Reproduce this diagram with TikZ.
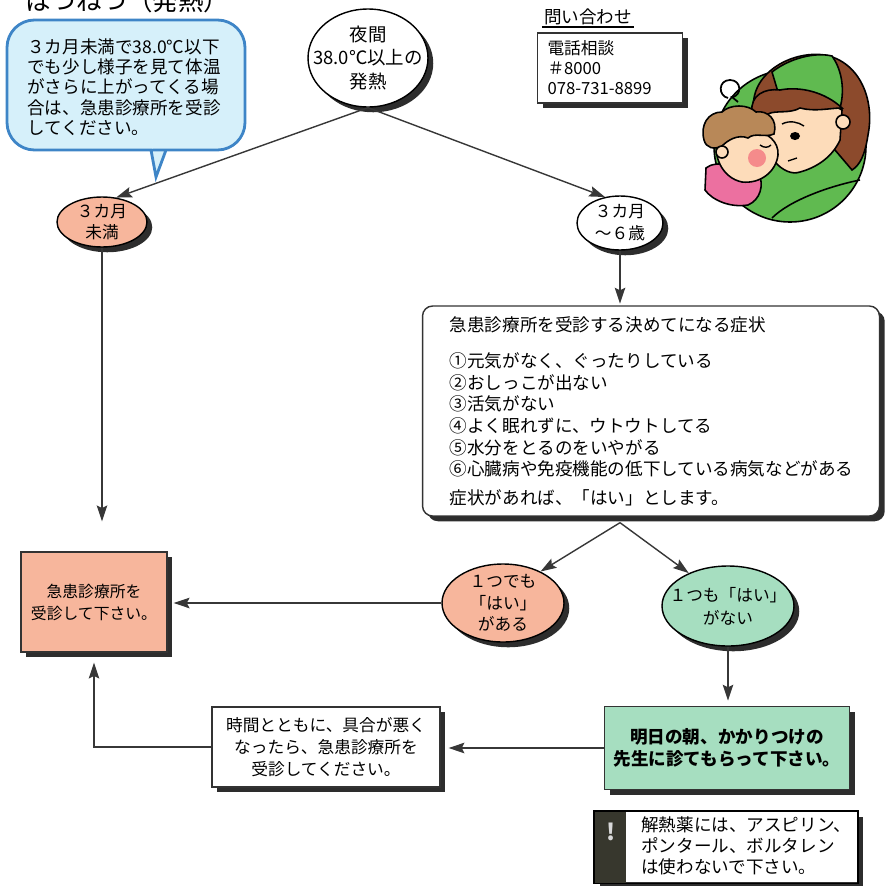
\documentclass[tikz,border=0pt]{standalone}
\usepackage{fontspec}
\setmainfont{Noto Sans CJK JP}
\usetikzlibrary{shapes.geometric,shadows,arrows.meta}

\definecolor{salmon}{RGB}{247,182,156}
\definecolor{mint}{RGB}{166,222,192}
\definecolor{bubblefill}{RGB}{214,240,250}
\definecolor{bubbleline}{RGB}{62,133,199}
\definecolor{shade}{RGB}{45,45,45}
\definecolor{linegray}{RGB}{55,55,55}
\definecolor{stripdark}{RGB}{55,55,45}
\definecolor{momgreen}{RGB}{96,186,80}
\definecolor{hairbrown}{RGB}{140,74,44}
\definecolor{kidhair}{RGB}{184,136,88}
\definecolor{skin}{RGB}{253,220,186}
\definecolor{kidpink}{RGB}{236,112,160}
\definecolor{cheek}{RGB}{240,90,90}

\begin{document}
\begin{tikzpicture}[x=0.02cm, y=-0.02cm,
  txt/.style={align=center, inner sep=0pt},
  oval/.style={ellipse, draw=black, line width=0.8pt, inner sep=0pt,
    drop shadow={shadow xshift=3pt, shadow yshift=-3pt, fill=shade, opacity=1}},
  box/.style={rectangle, draw=black!80, line width=0.8pt, fill=white, inner sep=0pt,
    drop shadow={shadow xshift=3pt, shadow yshift=-3pt, fill=shade, opacity=1}},
  arr/.style={draw=linegray, line width=0.8pt,
    -{Stealth[length=9pt, width=6pt, inset=1.5pt]}},
  ink/.style={draw=black, line width=0.9pt}]

  \useasboundingbox (0,0) rectangle (885,886);

  % Heading, cut at the top edge
  \node[anchor=base west, inner sep=0pt, font=\fontsize{14.5}{15}\selectfont]
    (title) at (25,10) {はつねつ（発熱）};

  % Speech bubble with its tail
  \filldraw[fill=bubblefill, draw=bubbleline, line width=1.6pt]
    (7,85) [rounded corners=0.55cm] -- (7,20) -- (245,20) -- (245,150) -- (180,150)
    [sharp corners] -- (166,150) -- (156,177) -- (151,150) -- (130,150)
    [rounded corners=0.55cm] -- (7,150) -- cycle;
  \node[align=left, inner sep=0pt, font=\fontsize{10}{11.6}\selectfont] (note) at (124,87)
    {３カ月未満で38.0℃以下\\でも少し様子を見て体温\\がさらに上がってくる場\\合は、急患診療所を受診\\してください。};

  % Start of the chart
  \node[oval, fill=white, minimum width=2.4cm, minimum height=1.96cm] (night) at (368,58) {};
  \node[txt, font=\fontsize{10.5}{13.4}\selectfont] at (night) {夜間\\38.0℃以上の\\発熱};

  % Contact box
  \node[inner sep=1pt, font=\fontsize{10}{12}\selectfont] (askhead) at (588,17) {問い合わせ};
  \draw[line width=0.8pt] (askhead.south west) -- (askhead.south east);
  \node[box, minimum width=2.9cm, minimum height=1.4cm, text width=2.5cm, align=left,
    font=\fontsize{9.5}{11.4}\selectfont] (phone) at (610,68)
    {電話相談\\＃8000\\078-731-8899};

  % Age branches
  \node[oval, fill=salmon, minimum width=1.8cm, minimum height=1cm] (young) at (102,222) {};
  \node[txt, font=\fontsize{9.5}{11.8}\selectfont] at (young) {３カ月\\未満};
  \node[oval, fill=white, minimum width=1.72cm, minimum height=1.08cm] (older) at (620,223) {};
  \node[txt, font=\fontsize{9.5}{12.5}\selectfont] at (older) {３カ月\\～６歳};

  % List of signs
  \node[box, rounded corners=0.2cm, minimum width=9.14cm, minimum height=4.2cm,
    text width=8.05cm, align=left, font=\fontsize{10}{12.3}\selectfont] (signs) at (651,411)
    {急患診療所を受診する決めてになる症状\\[8.5pt]
     ①元気がなく、ぐったりしている\\
     ②おしっこが出ない\\
     ③活気がない\\
     ④よく眠れずに、ウトウトしてる\\
     ⑤水分をとるのをいやがる\\
     ⑥心臓病や免疫機能の低下している病気などがある\\[4pt]
     症状があれば、「はい」とします。};

  % Answers
  \node[oval, fill=salmon, minimum width=2.44cm, minimum height=1.56cm] (yes1) at (503,603) {};
  \node[txt, font=\fontsize{9.5}{12.2}\selectfont] at (yes1) {１つでも\\「はい」\\がある};
  \node[oval, fill=mint, minimum width=2.64cm, minimum height=1.6cm] (no1) at (728,606) {};
  \node[txt, font=\fontsize{9.5}{13}\selectfont] at (no1) {１つも「はい」\\がない};

  % Outcome boxes
  \node[box, fill=salmon, minimum width=2.92cm, minimum height=2cm, align=center,
    font=\fontsize{9}{12.5}\selectfont] (urgent) at (94,602) {急患診療所を\\受診して下さい。};
  \node[box, fill=mint, minimum width=4.9cm, minimum height=1.66cm, align=center,
    font=\bfseries\fontsize{10}{12.5}\selectfont] (advice) at (727,748)
    {明日の朝、かかりつけの\\先生に診てもらって下さい。};
  \node[box, minimum width=4.56cm, minimum height=1.6cm, align=center,
    font=\fontsize{9.5}{12.5}\selectfont] (later) at (326,747)
    {時間とともに、具合が悪く\\なったら、急患診療所を\\受診してください。};

  % Note on fever medicine
  \node[box, minimum width=5.26cm, minimum height=1.42cm] (warn) at (726,847) {};
  \fill[stripdark] (warn.north west) rectangle ([xshift=0.64cm]warn.south west);
  \draw[line width=0.8pt] (warn.north west) rectangle (warn.south east);
  \node[text=white!85!black, font=\bfseries\fontsize{13}{13}\selectfont] (bang) at (611,832) {!};
  \node[anchor=west, align=left, inner sep=0pt, font=\fontsize{10}{12}\selectfont]
    (warntext) at (641,846) {解熱薬には、アスピリン、\\ポンタール、ボルタレン\\は使わないで下さい。};

  % Connectors
  \path (signs.south -| older.south) ++(0,6) coordinate (fork);
  \draw[arr] (night.south) -- (young.60);
  \draw[arr] (night.south) -- (older.120);
  \draw[arr, shorten >=0.6cm] (young.south) -- (young.south |- urgent.north);
  \draw[arr, shorten >=1pt] (older.south) -- (older.south |- signs.north);
  \draw[arr] (fork) -- (yes1.40);
  \draw[arr] (fork) -- (no1.140);
  \draw[arr, shorten >=3.4pt] (yes1.west) -- (yes1.west -| urgent.east);
  \draw[arr, shorten >=3pt] (no1.south) -- (no1.south |- advice.north);
  \draw[arr, shorten >=4.5pt] (advice.west) -- (advice.west -| later.east);
  \draw[arr, shorten >=5.7pt] (later.west) -| (urgent.south);

  % Mother holding her child
  \fill[momgreen] (790,146) circle[radius=76];
  \draw[ink] (790,146) circle[radius=76];
  % mother's hair and cap
  \filldraw[ink, fill=hairbrown] (754,112) .. controls (748,75) and (790,50) .. (825,55)
    .. controls (860,62) and (875,100) .. (868,135)
    .. controls (865,155) and (860,165) .. (852,170) -- (835,150) -- cycle;
  \filldraw[ink, fill=momgreen] (772,72) .. controls (790,58) and (815,52) .. (832,56)
    .. controls (842,70) and (845,90) .. (840,108)
    .. controls (825,95) and (800,88) .. (778,92) -- cycle;
  % mother's face
  \filldraw[ink, fill=skin] (764,105) .. controls (758,125) and (762,150) .. (775,162)
    .. controls (782,170) and (792,175) .. (800,172)
    .. controls (815,168) and (832,158) .. (840,140) -- (842,110)
    .. controls (820,98) and (790,96) .. cycle;
  \filldraw[ink, fill=hairbrown] (752,112) .. controls (750,95) and (765,88) .. (780,90)
    .. controls (800,86) and (825,92) .. (842,108)
    .. controls (830,108) and (815,112) .. (800,108)
    .. controls (790,114) and (775,110) .. (768,114)
    .. controls (762,118) and (756,118) .. cycle;
  \filldraw[ink, fill=skin] (843,122) circle[radius=7];
  \fill (795,136) ellipse[x radius=5, y radius=4];
  \draw[line width=0.8pt] (782,124) .. controls (790,120) and (798,122) .. (804,126);
  \draw[line width=0.8pt] (788,161) -- (797,158);
  \draw[ink] (772,218) .. controls (790,200) and (830,186) .. (860,180);
  % child
  \filldraw[ink, fill=kidpink] (706,168) .. controls (715,160) and (740,165) .. (758,172)
    .. controls (765,185) and (760,200) .. (748,205)
    .. controls (730,208) and (712,200) .. (705,190) -- cycle;
  \filldraw[ink, fill=skin] (718,138) .. controls (712,155) and (722,178) .. (742,182)
    .. controls (760,184) and (776,172) .. (778,155)
    .. controls (779,142) and (768,132) .. (752,130) -- cycle;
  \fill[cheek!70] (757,158) circle[radius=9];
  \filldraw[ink, fill=kidhair] (704,140) .. controls (700,125) and (708,112) .. (722,112)
    .. controls (730,104) and (748,104) .. (756,112)
    .. controls (768,110) and (778,120) .. (774,134)
    .. controls (765,138) and (755,132) .. (748,138)
    .. controls (738,134) and (728,140) .. (722,146)
    .. controls (714,150) and (706,148) .. cycle;
  \filldraw[ink, fill=skin] (722,152) circle[radius=6];
  \draw[line width=0.8pt] (760,145) .. controls (764,148) and (768,148) .. (771,145);
  % little question mark
  \draw[line width=1pt] (728,98) .. controls (718,96) and (718,80) .. (730,80)
    .. controls (742,80) and (742,96) .. (732,97) -- (738,102);

\end{tikzpicture}
\end{document}
